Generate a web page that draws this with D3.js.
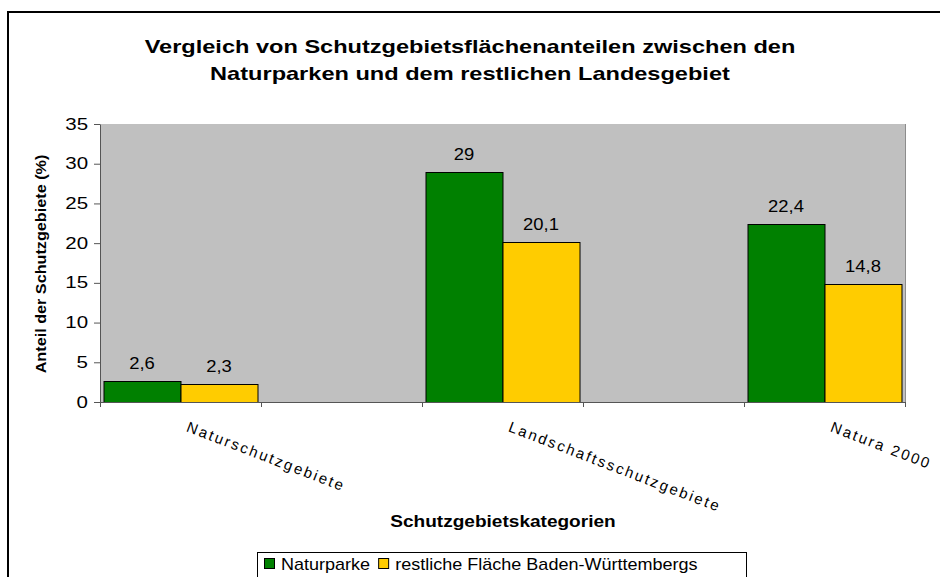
<!DOCTYPE html>
<html>
<head>
<meta charset="utf-8">
<script src="https://cdn.jsdelivr.net/npm/d3@7"></script>
<style>
  body { margin: 0; background: #fff; }
  text { font-family: "Liberation Sans", Arial, sans-serif; fill: #000; }
</style>
</head>
<body>
<svg width="940" height="577"></svg>
<script>
// data
var titleLines = ["Vergleich von Schutzgebietsflächenanteilen zwischen den",
                  "Naturparken und dem restlichen Landesgebiet"];
var categories = ["Naturschutzgebiete", "", "Landschaftsschutzgebiete", "", "Natura 2000"];
var seriesNames = ["Naturparke", "restliche Fläche Baden-Württembergs"];
var naturparke = [2.6, null, 29, null, 22.4];
var restFlaeche = [2.3, null, 20.1, null, 14.8];
var yTicks = [0, 5, 10, 15, 20, 25, 30, 35];
var colors = ["#008000", "#ffcc00"];
var yTitle = "Anteil der Schutzgebiete (%)";
var xTitle = "Schutzgebietskategorien";

var svg = d3.select("svg");

// stretch text horizontally (the original is rendered wide)
function wide(sel, k) {
    sel.each(function () {
        var len = this.getComputedTextLength();
        d3.select(this).attr("textLength", len * k).attr("lengthAdjust", "spacingAndGlyphs");
    });
}

// outer frame
svg.append("rect")
    .attr("x", 8).attr("y", 12)
    .attr("width", 960).attr("height", 600)
    .attr("fill", "#fff").attr("stroke", "#000").attr("stroke-width", 2);

var plot = {left: 100, right: 905, top: 124, bottom: 402};

var x0 = d3.scaleBand().domain(d3.range(categories.length)).range([plot.left, plot.right]);
var x1 = d3.scaleBand().domain([0, 1]).range([3.5, x0.bandwidth() - 3.5]);
var y = d3.scaleLinear().domain([0, 35]).range([plot.bottom, plot.top]);

// plot area
svg.append("rect")
    .attr("x", plot.left).attr("y", plot.top)
    .attr("width", plot.right - plot.left).attr("height", plot.bottom - plot.top)
    .attr("fill", "#c0c0c0");
svg.append("line")
    .attr("x1", plot.right + 0.5).attr("x2", plot.right + 0.5)
    .attr("y1", plot.top).attr("y2", plot.bottom)
    .attr("stroke", "#8c8c8c");

// bars
var series = [naturparke, restFlaeche];
series.forEach(function (vals, s) {
    var g = svg.append("g");
    var data = vals.map(function (v, i) { return {i: i, v: v}; }).filter(function (d) { return d.v != null; });
    g.selectAll("rect").data(data).enter().append("rect")
        .attr("x", function (d) { return x0(d.i) + x1(s) + 0.5; })
        .attr("y", function (d) { return Math.round(y(d.v)) + 0.5; })
        .attr("width", x1.bandwidth())
        .attr("height", function (d) { return plot.bottom - Math.round(y(d.v)); })
        .attr("fill", colors[s])
        .attr("stroke", "#000").attr("stroke-width", 1);
    g.selectAll("text").data(data).enter().append("text")
        .attr("x", function (d) { return x0(d.i) + x1(s) + x1.bandwidth() / 2; })
        .attr("y", function (d) { return y(d.v) - 12; })
        .attr("text-anchor", "middle")
        .style("font-size", "16px")
        .text(function (d) { return String(d.v).replace(".", ","); })
        .call(wide, 1.15);
});

// y axis
var yAxis = svg.append("g")
    .attr("transform", "translate(" + plot.left + ",0)")
    .call(d3.axisLeft(y).tickValues(yTicks).tickSize(6).tickSizeOuter(0).tickPadding(6));
yAxis.selectAll("path, line").attr("stroke", "#555");
yAxis.selectAll("text").style("font-size", "16px").style("font-family", "Liberation Sans, Arial, sans-serif")
    .call(wide, 1.28);

// x axis with ticks at category boundaries
var xb = d3.scaleLinear().domain([0, categories.length]).range([plot.left, plot.right]);
var xAxis = svg.append("g")
    .attr("transform", "translate(0," + plot.bottom + ")")
    .call(d3.axisBottom(xb).tickValues(d3.range(categories.length + 1)).tickFormat("").tickSize(5).tickSizeOuter(0));
xAxis.selectAll("path, line").attr("stroke", "#555");

// category labels, rotated
svg.append("g").selectAll("text")
    .data(categories.map(function (c, i) { return {c: c, i: i}; }).filter(function (d) { return d.c; }))
    .enter().append("text")
    .attr("transform", function (d) {
        return "translate(" + (x0(d.i) + x0.bandwidth() / 2 + 5) + ",431) rotate(21)";
    })
    .style("font-size", "15px")
    .style("letter-spacing", "2.2px")
    .text(function (d) { return d.c; });

// title
svg.append("g").selectAll("text").data(titleLines).enter().append("text")
    .attr("x", 470)
    .attr("y", function (d, i) { return 53 + i * 27; })
    .attr("text-anchor", "middle")
    .style("font-size", "19px").style("font-weight", "bold")
    .text(function (d) { return d; })
    .call(wide, 1.24);

// axis titles
svg.append("text")
    .attr("transform", "translate(46,264) rotate(-90)")
    .attr("text-anchor", "middle")
    .style("font-size", "15px").style("font-weight", "bold")
    .text(yTitle)
    .call(wide, 1.08);

svg.append("text")
    .attr("x", 503).attr("y", 527)
    .attr("text-anchor", "middle")
    .style("font-size", "17px").style("font-weight", "bold")
    .text(xTitle)
    .call(wide, 1.12);

// legend
var legend = svg.append("g");
legend.append("rect")
    .attr("x", 257.5).attr("y", 552.5)
    .attr("width", 489).attr("height", 40)
    .attr("fill", "#fff").attr("stroke", "#000");
var lx = 264;
seriesNames.forEach(function (name, s) {
    legend.append("rect")
        .attr("x", lx + 0.5).attr("y", 558.5)
        .attr("width", 10).attr("height", 10)
        .attr("fill", colors[s]).attr("stroke", "#000");
    var t = legend.append("text")
        .attr("x", lx + 17).attr("y", 570)
        .style("font-size", "17px")
        .text(name)
        .call(wide, 1.06);
    lx = lx + 17 + t.node().getComputedTextLength() + 8;
});
</script>
</body>
</html>
